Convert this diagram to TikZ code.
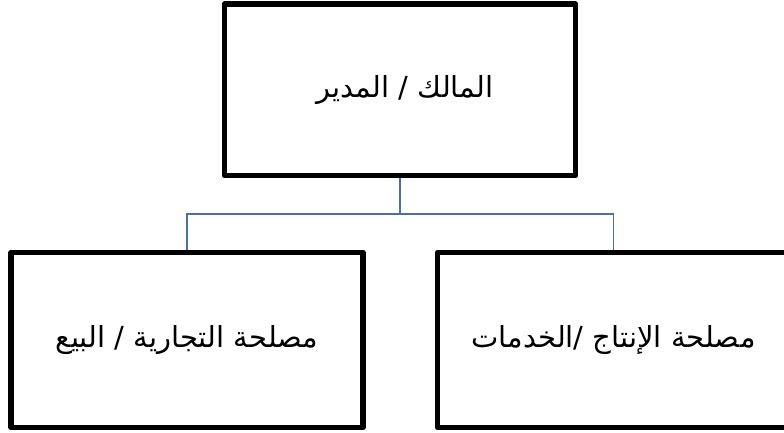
\documentclass[tikz,border=0pt]{standalone}
\usepackage{fontspec}
\newfontfamily\arabicfont[Script=Arabic]{DejaVu Sans}
\TeXXeTstate=1
\definecolor{connblue}{RGB}{74,111,160}
\tikzset{
  orgbox/.style={draw=black, line width=5.5pt, fill=white, inner sep=0pt, outer sep=0pt,
    font=\arabicfont\fontsize{29}{34}\selectfont, line join=round},
  conn/.style={draw=connblue, line width=1.5pt}
}
\begin{document}
\begin{tikzpicture}[x=1pt,y=-1pt]
\useasboundingbox (0,0) rectangle (784,432);
\clip (0,0) rectangle (784,432);
\coordinate (j) at (400,214);
\draw[conn] (400,176) -- (j);
\draw[conn] (187,252) |- (j) -| (613.5,252);
\node[orgbox, minimum width=351pt, minimum height=171.5pt] (top) at (400,89.75) {\raisebox{-3pt}{\hspace*{10pt}\beginR المالك / المدير\endR}};
\node[orgbox, minimum width=352pt, minimum height=175pt] (left) at (187,340) {\raisebox{-3pt}{\beginR مصلحة التجارية / البيع\endR}};
\node[orgbox, minimum width=352pt, minimum height=175pt] (right) at (613.5,340) {\raisebox{-3pt}{\beginR مصلحة الإنتاج /الخدمات\endR}};
\end{tikzpicture}
\end{document}
